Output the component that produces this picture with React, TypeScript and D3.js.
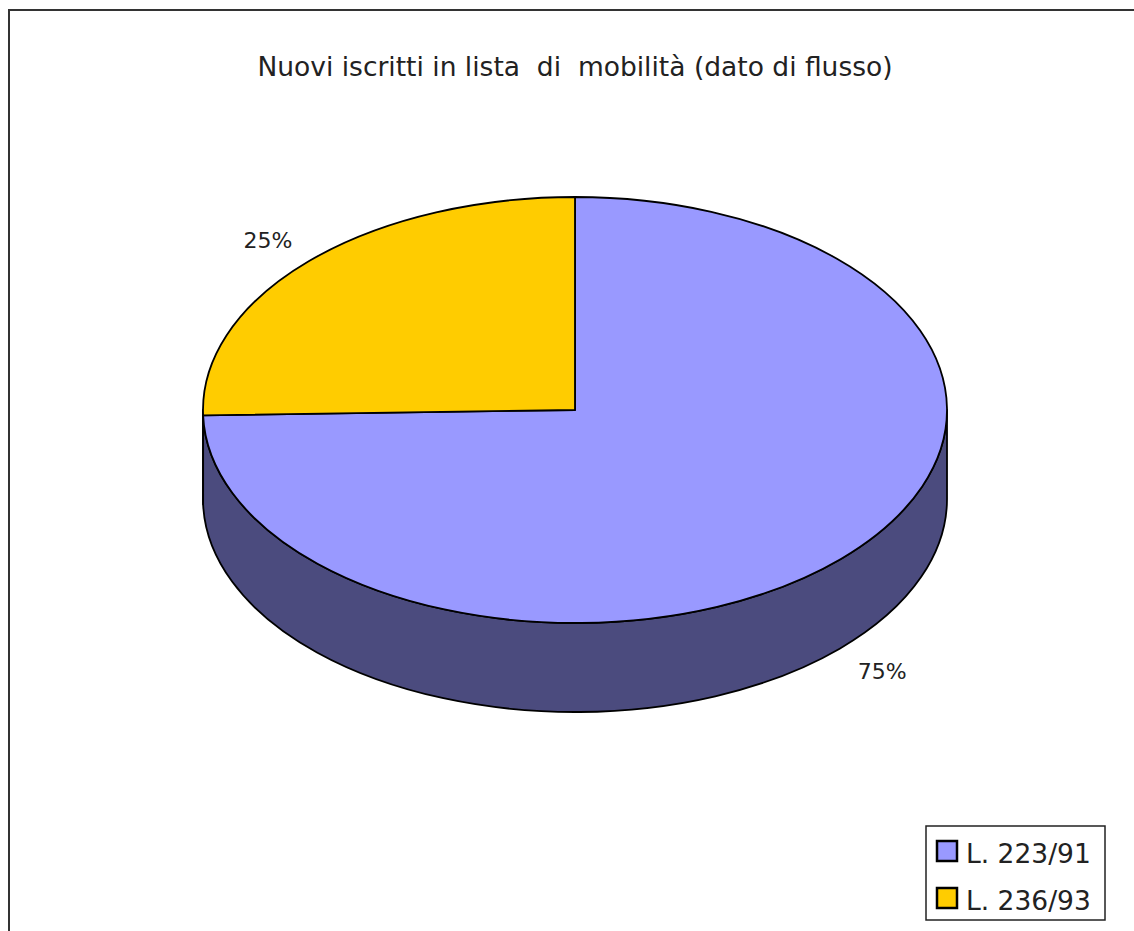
import React from "react";
import * as d3 from "d3";

const title = "Nuovi iscritti in lista  di  mobilità (dato di flusso)";
const categories = ["L. 223/91", "L. 236/93"];
const values = [74.6, 25.4];
const topColors = ["#9999FF", "#FFCC00"];
const sideColors = ["#4B4B7E", "#806600"];

const W = 1134;
const H = 931;
const cx = 575;
const cy = 410;
const rx = 372;
const ry = 213;
const depth = 89;
const FONT = "'DejaVu Sans', Verdana, sans-serif";

function pt(a: number, dy = 0): [number, number] {
  return [cx + rx * Math.sin(a), cy - ry * Math.cos(a) + dy];
}

export default function App() {
  const pie = d3
    .pie<number>()
    .sort(null)
    .startAngle(0)
    .endAngle(2 * Math.PI);
  const arcs = pie(values);
  const total = d3.sum(values);
  const fmt = d3.format(".0%");

  const tops = arcs.map((a, i) => {
    const p0 = pt(a.startAngle);
    const p1 = pt(a.endAngle);
    const large = a.endAngle - a.startAngle > Math.PI ? 1 : 0;
    const d = `M${cx},${cy} L${p0[0]},${p0[1]} A${rx},${ry} 0 ${large} 1 ${p1[0]},${p1[1]} Z`;
    return <path key={"t" + i} d={d} fill={topColors[i]} stroke="#000" strokeWidth={1.8} strokeLinejoin="round" />;
  });

  const sides = arcs
    .map((a, i) => {
      const s = Math.max(a.startAngle, Math.PI / 2);
      const e = Math.min(a.endAngle, (3 * Math.PI) / 2);
      if (e <= s) return null;
      const p0 = pt(s);
      const p1 = pt(e);
      const q1 = pt(e, depth);
      const q0 = pt(s, depth);
      const d = `M${p0[0]},${p0[1]} A${rx},${ry} 0 0 1 ${p1[0]},${p1[1]} L${q1[0]},${q1[1]} A${rx},${ry} 0 0 0 ${q0[0]},${q0[1]} Z`;
      return <path key={"s" + i} d={d} fill={sideColors[i]} stroke="#000" strokeWidth={1.8} strokeLinejoin="round" />;
    })
    .filter(Boolean);

  const labels = arcs.map((a, i) => {
    const m = (a.startAngle + a.endAngle) / 2;
    const x = cx + (rx + 57) * Math.sin(m);
    let y = cy - (ry + 32) * Math.cos(m);
    if (Math.cos(m) < 0) y += depth;
    return (
      <text key={"l" + i} x={x} y={y + 9} textAnchor="middle" fontFamily={FONT} fontSize={22} fill="#222">
        {fmt(a.value / total)}
      </text>
    );
  });

  return (
    <svg width={W} height={H} style={{ position: "absolute", left: 0, top: 0, background: "#fff" }}>
      <rect x={0} y={0} width={W} height={H} fill="#fff" />
      <rect x={9} y={10} width={W + 20} height={H + 20} fill="none" stroke="#333" strokeWidth={2} />
      <text x={cx} y={76} textAnchor="middle" fontFamily={FONT} fontSize={26.5} fill="#222" style={{ whiteSpace: "pre" }}>
        {title}
      </text>
      {sides}
      {tops}
      {labels}
      <g>
        <rect x={926} y={826} width={179} height={94} fill="#fff" stroke="#222" strokeWidth={1.5} />
        {categories.map((c, i) => (
          <g key={c} transform={`translate(0, ${i * 47})`}>
            <rect x={937} y={841} width={20} height={20} fill={topColors[i]} stroke="#000" strokeWidth={2.5} />
            <text x={966} y={863} fontFamily={FONT} fontSize={26.5} fill="#222">
              {c}
            </text>
          </g>
        ))}
      </g>
    </svg>
  );
}
